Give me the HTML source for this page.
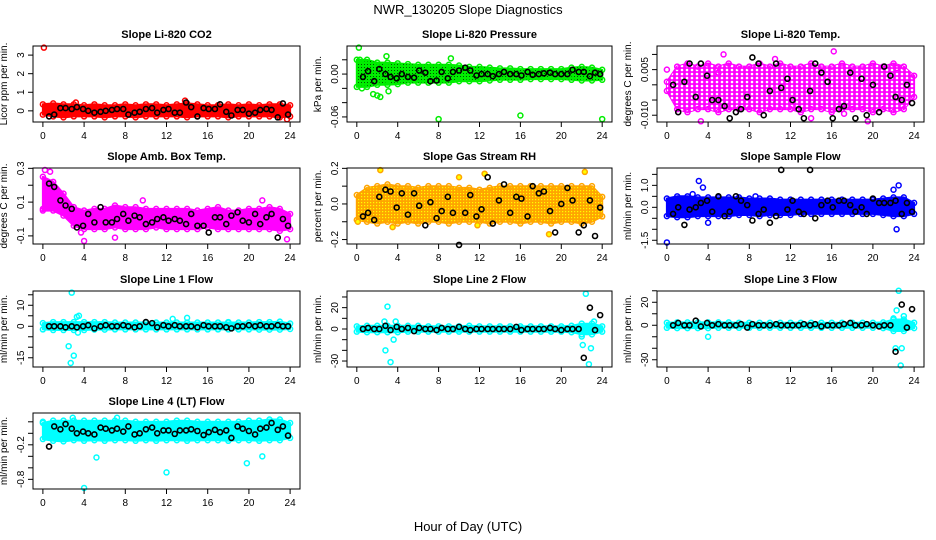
<!DOCTYPE html>
<html><head><meta charset="utf-8"><style>
html,body{margin:0;padding:0;background:#fff}
svg{display:block;font-family:"Liberation Sans",sans-serif}
</style></head><body>
<svg id="chart" width="936" height="540" viewBox="0 0 936 540" xmlns="http://www.w3.org/2000/svg">
<defs>
<pattern id="pat1" width="3" height="3" patternUnits="userSpaceOnUse"><rect x="1" y="1" width="1" height="1" fill="#005500"/></pattern>
<pattern id="pat2" width="5" height="4" patternUnits="userSpaceOnUse"><circle cx="2" cy="2" r="1.3" fill="#ffffff"/></pattern>
<pattern id="pat4" width="3" height="3" patternUnits="userSpaceOnUse"><rect x="1" y="1" width="1.2" height="1.2" fill="#ffff00"/></pattern>
</defs>
<text x="468" y="14" text-anchor="middle" font-size="13">NWR_130205  Slope Diagnostics</text>
<text x="468" y="531" text-anchor="middle" font-size="13">Hour of Day (UTC)</text>
</svg>
<script>
const hours = [0,1,2,3,4,5,6,7,8,9,10,11,12,13,14,15,16,17,18,19,20,21,22,23,24];
const blackHours = [0.6,1.1,1.7,2.2,2.8,3.3,3.9,4.4,5.0,5.6,6.1,6.7,7.2,7.8,8.3,8.9,9.4,10.0,10.6,11.1,11.7,12.2,12.8,13.3,13.9,14.4,15.0,15.6,16.1,16.7,17.2,17.8,18.3,18.9,19.4,20.0,20.6,21.1,21.7,22.2,22.8,23.3,23.8];
const xTicks = [0,4,8,12,16,20,24];

const titles = ["Slope Li-820 CO2","Slope Li-820 Pressure","Slope Li-820 Temp.","Slope Amb. Box Temp.","Slope Gas Stream RH","Slope Sample Flow","Slope Line 1 Flow","Slope Line 2 Flow","Slope Line 3 Flow","Slope Line 4 (LT) Flow"];
const yTitles = ["Licor ppm per min.","kPa per min.","degrees C per min.","degrees C per min.","percent per min.","ml/min per min.","ml/min per min.","ml/min per min.","ml/min per min.","ml/min per min."];
const colors = ["#ff0000","#00ee00","#ff00ff","#ff00ff","#ffa500","#0000ff","#00ffff","#00ffff","#00ffff","#00ffff"];
const yDomains = [[-0.6,3.49],[-0.0671,0.0393],[-0.01223,0.01277],[-0.148,0.302],[-0.225,0.202],[-1.67,1.79],[-19.4,16.8],[-35.6,35.6],[-36.3,29.8],[-0.968,0.353]];
const yTicks = [[0,1,2,3],[0.02,0,-0.02,-0.04,-0.06],[0.01,0.005,0,-0.005,-0.01],[0.3,0.2,0.1,0,-0.1],[0.2,0.1,0,-0.1,-0.2],[1.5,1,0.5,0,-0.5,-1,-1.5],[15,10,5,0,-5,-10,-15],[30,20,10,0,-10,-20,-30],[30,20,10,0,-10,-20,-30],[0.2,0,-0.2,-0.4,-0.6,-0.8]];
const yTickLabels = [["0","1","2","3"],["","0.00","","","-0.06"],["","0.005","","","-0.010"],["0.3","","0.1","","-0.1"],["0.2","","0.0","","-0.2"],["","1.0","","0.0","","","-1.5"],["","10","","0","","","-15"],["","20","","0","","","-30"],["","20","","0","","","-30"],["","","-0.2","","","-0.8"]];

const bandLo = [
[-0.2,-0.3,-0.35,-0.3,-0.3,-0.3,-0.35,-0.3,-0.3,-0.35,-0.3,-0.3,-0.3,-0.3,-0.35,-0.3,-0.3,-0.3,-0.35,-0.3,-0.3,-0.3,-0.3,-0.35,-0.3],
[-0.018,-0.018,-0.015,-0.015,-0.014,-0.012,-0.012,-0.012,-0.012,-0.012,-0.01,-0.01,-0.01,-0.009,-0.008,-0.008,-0.008,-0.007,-0.007,-0.007,-0.007,-0.008,-0.009,-0.009,-0.008],
[-0.002,-0.008,-0.009,-0.008,-0.008,-0.009,-0.008,-0.008,-0.008,-0.009,-0.008,-0.008,-0.008,-0.009,-0.008,-0.008,-0.009,-0.008,-0.008,-0.008,-0.009,-0.008,-0.009,-0.008,-0.004],
[0.05,0.05,0.02,-0.04,-0.06,-0.06,-0.06,-0.05,-0.06,-0.06,-0.06,-0.05,-0.06,-0.06,-0.06,-0.06,-0.05,-0.06,-0.06,-0.06,-0.06,-0.06,-0.06,-0.07,-0.06],
[-0.09,-0.1,-0.11,-0.1,-0.11,-0.1,-0.11,-0.1,-0.1,-0.11,-0.1,-0.1,-0.1,-0.11,-0.1,-0.1,-0.11,-0.1,-0.1,-0.11,-0.1,-0.1,-0.11,-0.1,-0.07],
[-0.4,-0.45,-0.45,-0.4,-0.4,-0.4,-0.4,-0.35,-0.35,-0.4,-0.35,-0.35,-0.35,-0.3,-0.3,-0.3,-0.3,-0.3,-0.3,-0.3,-0.3,-0.35,-0.4,-0.4,-0.3],
[-1.5,-1.8,-1.8,-1.8,-1.8,-1.6,-1.6,-1.5,-1.5,-1.5,-1.5,-1.5,-1.5,-1.5,-1.5,-1.5,-1.5,-1.5,-1.5,-1.5,-1.5,-1.6,-1.6,-1.6,-1.3],
[-2.5,-3,-3,-3,-3,-2.5,-2.5,-2.5,-2.5,-2.5,-2.5,-2.5,-2.5,-2.5,-2.5,-2.5,-2.5,-2.5,-2.5,-2.5,-2.5,-3,-5,-5,-2.5],
[-2.2,-2.5,-2.5,-2.5,-2.5,-2.2,-2.2,-2.2,-2.2,-2.2,-2.2,-2.2,-2.2,-2.2,-2.2,-2.2,-2.2,-2.2,-2.2,-2.2,-2.2,-2.5,-5,-5,-2.5],
[-0.1,-0.13,-0.14,-0.12,-0.13,-0.12,-0.13,-0.12,-0.12,-0.13,-0.12,-0.13,-0.12,-0.12,-0.13,-0.12,-0.12,-0.12,-0.13,-0.12,-0.12,-0.13,-0.12,-0.12,-0.08]];
const bandHi = [
[0.35,0.4,0.35,0.35,0.3,0.35,0.3,0.3,0.35,0.3,0.35,0.35,0.3,0.35,0.4,0.35,0.3,0.3,0.35,0.3,0.35,0.3,0.35,0.35,0.3],
[0.02,0.02,0.016,0.016,0.015,0.014,0.013,0.013,0.013,0.013,0.012,0.01,0.01,0.009,0.008,0.008,0.007,0.007,0.007,0.007,0.007,0.009,0.01,0.009,0.006],
[0.001,0.006,0.007,0.006,0.007,0.006,0.007,0.006,0.006,0.007,0.006,0.007,0.006,0.006,0.007,0.006,0.006,0.007,0.006,0.006,0.007,0.006,0.007,0.006,0.003],
[0.25,0.22,0.15,0.07,0.05,0.06,0.06,0.08,0.07,0.07,0.06,0.06,0.06,0.06,0.06,0.05,0.06,0.07,0.05,0.05,0.06,0.06,0.07,0.06,0.03],
[0.05,0.09,0.1,0.11,0.1,0.1,0.09,0.1,0.1,0.1,0.09,0.09,0.08,0.09,0.1,0.1,0.1,0.1,0.1,0.1,0.1,0.1,0.1,0.1,0.04],
[0.4,0.5,0.5,0.45,0.45,0.45,0.45,0.45,0.4,0.4,0.4,0.35,0.35,0.35,0.35,0.35,0.35,0.35,0.35,0.35,0.35,0.4,0.45,0.45,0.2],
[1.5,2,2,2,2,2,2,1.8,1.8,1.8,1.8,1.8,1.8,1.8,1.8,1.8,1.8,1.8,1.8,1.8,1.8,2,2,2.2,1.3],
[2.5,3,3,3,3,3,3,2.5,2.5,2.5,2.5,3,2.5,2.5,2.5,2.5,2.5,2.5,2.5,2.5,2.5,3,5,5,2.5],
[2.2,2.5,2.5,2.5,2.5,2.5,2.5,2.2,2.2,2.2,2.2,2.2,2.2,2.2,2.2,2.2,2.2,2.2,2.2,2.2,2.2,2.5,5,5,2.2],
[0.18,0.22,0.22,0.22,0.22,0.22,0.22,0.22,0.22,0.2,0.2,0.2,0.2,0.22,0.22,0.2,0.2,0.2,0.2,0.2,0.22,0.22,0.24,0.24,0.18]];

const outX = [
[0.1,13.8,3.2,23.7],
[0.2,0.5,1.6,2,2.3,8,16,24,0.3,2.9,9.2,3.1],
[0,3.3,5.5,10.5,16.2,17.2,19.5,14,22.3,5],
[0.2,0.7,4,9.7,21.3,23.7,0,3.7,7],
[2.3,0.1,10,12.5,22.3,18.8,11.8,3.5],
[0,3.1,3.5,22,22.5,21.8,22.3,4,2.5,8.6],
[2.8,2.7,3.0,2.5,3.4,3.3,3.5,14,18,12.6],
[3,3.3,2.8,3.6,2.7,3.8,22.4,22.7,22.9,22.1,23.2,22.0],
[4,22.5,22.7,22.8,22.0,22.3,23.0,22.2],
[2.9,7.2,4,5.2,12,19.8,21.3,0]];
const outY = [
[3.4,0.55,0.45,-0.45],
[0.037,-0.02,-0.028,-0.03,-0.032,-0.063,-0.058,-0.063,0.02,0.025,0.022,-0.024],
[0.005,-0.012,0.01,0.0085,0.011,-0.0095,-0.012,-0.011,0.0055,0.004],
[0.29,0.28,-0.13,0.11,0.11,-0.12,0.06,-0.08,-0.11],
[0.19,-0.1,0.15,0.17,0.18,-0.17,-0.12,-0.13],
[-1.6,1.2,0.9,0.8,1.0,-0.2,-1.0,-0.7,0.6,0.5],
[16,-17.5,-14,-9.5,-3,4.5,5,4,2,3.5],
[21,-31,-20,-10,7,7,33,-33,-18,-15,7,-7],
[-10,30,-35,-20,6,13,8,-20],
[0.27,0.27,-0.95,-0.42,-0.68,-0.52,-0.4,0.2]];

const blackY = [
[-0.3,-0.2,0.15,0.15,0.1,0.2,0.1,0,-0.1,-0.05,0,0.05,0.1,0.1,-0.2,-0.1,-0.05,0.1,0.15,-0.1,0.05,0.1,-0.1,-0.1,0.45,0.2,-0.3,0.15,0.1,0.1,0.35,-0.05,-0.25,0.05,0.05,-0.15,-0.1,0.05,0.1,0.05,-0.35,0.4,-0.2],
[-0.004,0.004,-0.01,0.007,0,-0.004,-0.006,0,-0.004,-0.005,0.005,0.002,-0.01,-0.009,0.003,-0.006,0.003,0.005,0.009,0.005,-0.002,0,0,-0.003,0,0.003,0,0,-0.002,0.003,-0.001,0,0.001,0.002,0,0,0,0.006,0.003,0.003,-0.003,0.002,0],
[0,-0.009,0.001,0.007,-0.004,0.007,0.003,-0.005,-0.005,-0.007,-0.011,-0.009,-0.008,-0.004,0.009,0.007,-0.01,-0.002,0.007,-0.001,0.002,-0.005,-0.008,-0.011,-0.002,0.007,0.004,0.001,-0.011,-0.008,-0.007,0.004,-0.011,0.002,-0.010,0,-0.009,0.006,0.003,-0.004,-0.005,0,-0.006],
[0.21,0.19,0.11,0.08,0.06,-0.05,-0.04,0.03,-0.02,0.07,-0.02,-0.02,0,0.03,-0.01,0.02,0.01,-0.03,-0.02,0,0.01,-0.01,0,-0.01,-0.03,0.03,-0.04,-0.04,-0.08,0.01,0.01,-0.03,0.02,0.04,-0.01,-0.02,0.03,-0.03,0.01,0.03,-0.11,0,-0.04],
[-0.07,-0.05,-0.09,0.04,0.08,0.07,-0.02,0.06,-0.06,0.06,-0.01,-0.12,0.01,-0.08,-0.04,0.04,-0.05,-0.23,-0.05,0.05,-0.07,-0.03,0.15,-0.11,0.02,0.11,-0.05,0.04,0.03,-0.07,0.1,0.06,0.07,-0.04,-0.16,0,0.09,0.02,-0.16,-0.12,0.02,-0.18,-0.02],
[-0.3,0,-0.8,-0.1,0,0.2,0.3,-0.2,0.5,-0.4,-0.2,0.5,0.3,0.1,-0.6,-0.3,-0.1,-0.7,-0.4,1.7,-0.1,0.3,-0.2,-0.3,1.7,-0.5,0.1,0.3,0,0.3,0.3,0.1,-0.2,0,-0.3,0.4,0.2,0.2,0.2,0.3,-0.3,0.2,-0.2],
[0,0,0,-0.5,0,-0.5,0,0.5,-1,0,0.5,0,0,0.5,0,-0.5,0,2,1.5,-0.5,0.5,0,0.5,0,0,0,-0.5,0.5,0,0,0,-0.5,-1,0,0,0.5,0,0.5,0,0,0.5,0,0],
[0,1,0,0,3,-1,2,0,1,-2,1,0,0,-1,1,0,0,2,0,-1,0,0,0,0,0,0,0,2,-1,0,0,0,0,1,0,-1,0,0,0,-27,20,-1,13],
[0,2,0,0,4,-1,2,0,1,0,0,0,1,-2,1,0,0,0,1,0,0,0,0,1,0,1,-1,0,0,0,1,2,0,0,1,0,-1,0,0,-23,18,-2,14],
[-0.23,0.12,0.07,0.16,0.08,0.0,0.03,0.0,-0.02,0.1,0.08,0.05,0.08,0.03,0.12,-0.02,0.0,0.07,0.1,0.0,0.05,0.05,-0.01,0.05,0.05,0.07,0.04,-0.03,0.02,0.06,0.02,0.05,-0.08,0.12,0.08,0.04,-0.02,0.08,0.1,0.18,0.06,0.12,-0.04]];

const NS = "http://www.w3.org/2000/svg";
const svg = document.getElementById("chart");
const colBox = [[33,300],[347,612],[657,924]];
const rowTop = [46,168,291,413];
const boxH = 76;
const patterns = {1:"url(#pat1)",2:"url(#pat2)",4:"url(#pat4)"};
function mk(tag, attrs, parent){const e=document.createElementNS(NS,tag);for(const k in attrs)e.setAttribute(k,attrs[k]);parent.appendChild(e);return e;}

for(let p=0;p<10;p++){
  const c=p%3, r=Math.floor(p/3);
  const L=colBox[c][0], R=colBox[c][1], T=rowTop[r], B=T+boxH;
  const pad=(R-L)*0.04/1.08;
  const xs=h=>L+pad+(h/24)*(R-L-2*pad);
  const [y0,y1]=yDomains[p];
  const ys=v=>B-(v-y0)/(y1-y0)*boxH;
  const g=mk("g",{},svg);
  
  
  const t=mk("text",{x:(L+R)/2,y:T-8,"text-anchor":"middle","font-size":"11","font-weight":"bold"},g);
  
  
  t.textContent=titles[p];
  const yt=mk("text",{x:0,y:0,"text-anchor":"middle","font-size":"10",transform:`translate(${L-26},${(T+B)/2}) rotate(-90)`},g);
  
  
  yt.textContent=yTitles[p];
  let d="";
  hours.forEach((h,i)=>{d+=(i?"L":"M")+xs(h).toFixed(1)+" "+ys(bandHi[p][i]).toFixed(1);});
  for(let i=hours.length-1;i>=0;i--) d+="L"+xs(hours[i]).toFixed(1)+" "+ys(bandLo[p][i]).toFixed(1);
  const band=mk("path",{d:d+"Z",fill:colors[p],stroke:colors[p],"stroke-width":"2","stroke-linejoin":"round"},g);
  
  
  if(patterns[p]){
    const tex=mk("path",{d:d+"Z",fill:patterns[p],stroke:"none"},g);
    
    
  }
  hours.forEach((h,i)=>{
    [bandLo[p][i],bandHi[p][i]].forEach(v=>{
      const ci=mk("circle",{cx:xs(h),cy:ys(v),r:2.5,fill:"none",stroke:colors[p],"stroke-width":1.5},g);
      
      
    });
  });
  outX[p].forEach((h,i)=>{
    const ci=mk("circle",{cx:xs(h),cy:ys(outY[p][i]),r:2.5,fill:p===4?"#ffff00":"none",stroke:colors[p],"stroke-width":1.5},g);
    
    
  });
  blackHours.forEach((h,i)=>{
    const ci=mk("circle",{cx:xs(h),cy:ys(blackY[p][i]),r:2.5,fill:"none",stroke:"#000","stroke-width":1.6},g);
    
    
  });
  const box=mk("rect",{x:L,y:T,width:R-L,height:boxH,fill:"none",stroke:"#000","stroke-width":1},g);
  
  
  xTicks.forEach(h=>{
    mk("line",{x1:xs(h),x2:xs(h),y1:B,y2:B+5,stroke:"#000"},g);
    const tl=mk("text",{x:xs(h),y:B+17,"text-anchor":"middle","font-size":"10"},g);
    
    
    tl.textContent=h;
  });
  const yv=yTicks[p];
  yv.forEach((v,i)=>{
    mk("line",{x1:L-5,x2:L,y1:ys(v),y2:ys(v),stroke:"#000"},g);
    if(yTickLabels[p][i]){
      const tl=mk("text",{x:0,y:0,"text-anchor":"middle","font-size":"10",transform:`translate(${L-9},${ys(v)}) rotate(-90)`},g);
      
      
      tl.textContent=yTickLabels[p][i];
    }
  });
}
</script>
</body></html>
